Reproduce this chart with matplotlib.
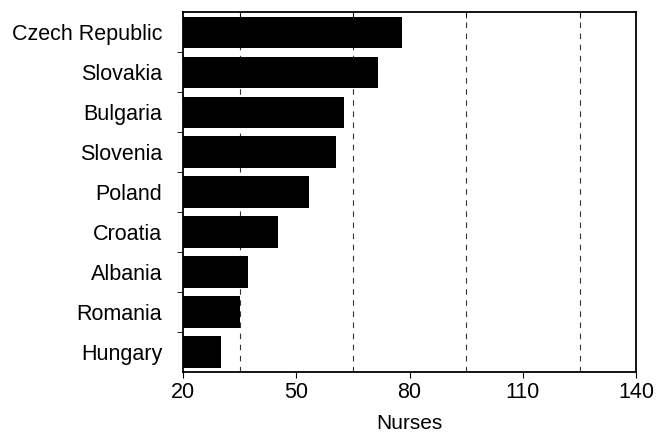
import matplotlib
matplotlib.use("Agg")
import matplotlib.pyplot as plt

countries = ["Czech Republic", "Slovakia", "Bulgaria", "Slovenia", "Poland",
             "Croatia", "Albania", "Romania", "Hungary"]
nurses = [77.9, 71.6, 62.6, 60.5, 53.3, 45.1, 37.2, 35.1, 30.1]
major_ticks = [20, 50, 80, 110, 140]
grid_lines = [35, 65, 95, 125]

plt.rcParams['font.family'] = ['Liberation Sans', 'DejaVu Sans']

fig = plt.figure(figsize=(6.58, 4.34), dpi=100)
ax = fig.add_axes([0.278, 0.143, 0.689, 0.829])

# countries top to bottom
pos = list(range(len(countries)))[::-1]
for g in grid_lines:
    ax.axvline(g, color="#333333", linestyle=(0, (5, 5)), linewidth=0.8, zorder=1)
ax.barh(pos, nurses, height=0.78, color="black", zorder=2)

ax.set_xlim(20, 140)
ax.set_ylim(-0.5, len(countries) - 0.5)
ax.set_xticks(major_ticks)
ax.set_xticklabels([str(t) for t in major_ticks], fontsize=15.5)
ax.set_xticks(grid_lines, minor=True)
ax.tick_params(axis="x", which="minor", top=True, bottom=False, direction="in", length=4)
ax.tick_params(axis="x", which="major", direction="out", length=4, pad=3)

# category labels centred, ticks at bar boundaries
ax.set_yticks(pos)
ax.set_yticklabels(countries, fontsize=15.5)
ax.tick_params(axis="y", which="major", length=0, pad=15)
ax.set_yticks([p + 0.5 for p in pos[1:]], minor=True)
ax.tick_params(axis="y", which="minor", direction="out", length=4, left=True)

ax.set_xlabel("Nurses", fontsize=15, labelpad=8)
for s in ax.spines.values():
    s.set_linewidth(1.3)

fig.savefig("out.png", dpi=100)
